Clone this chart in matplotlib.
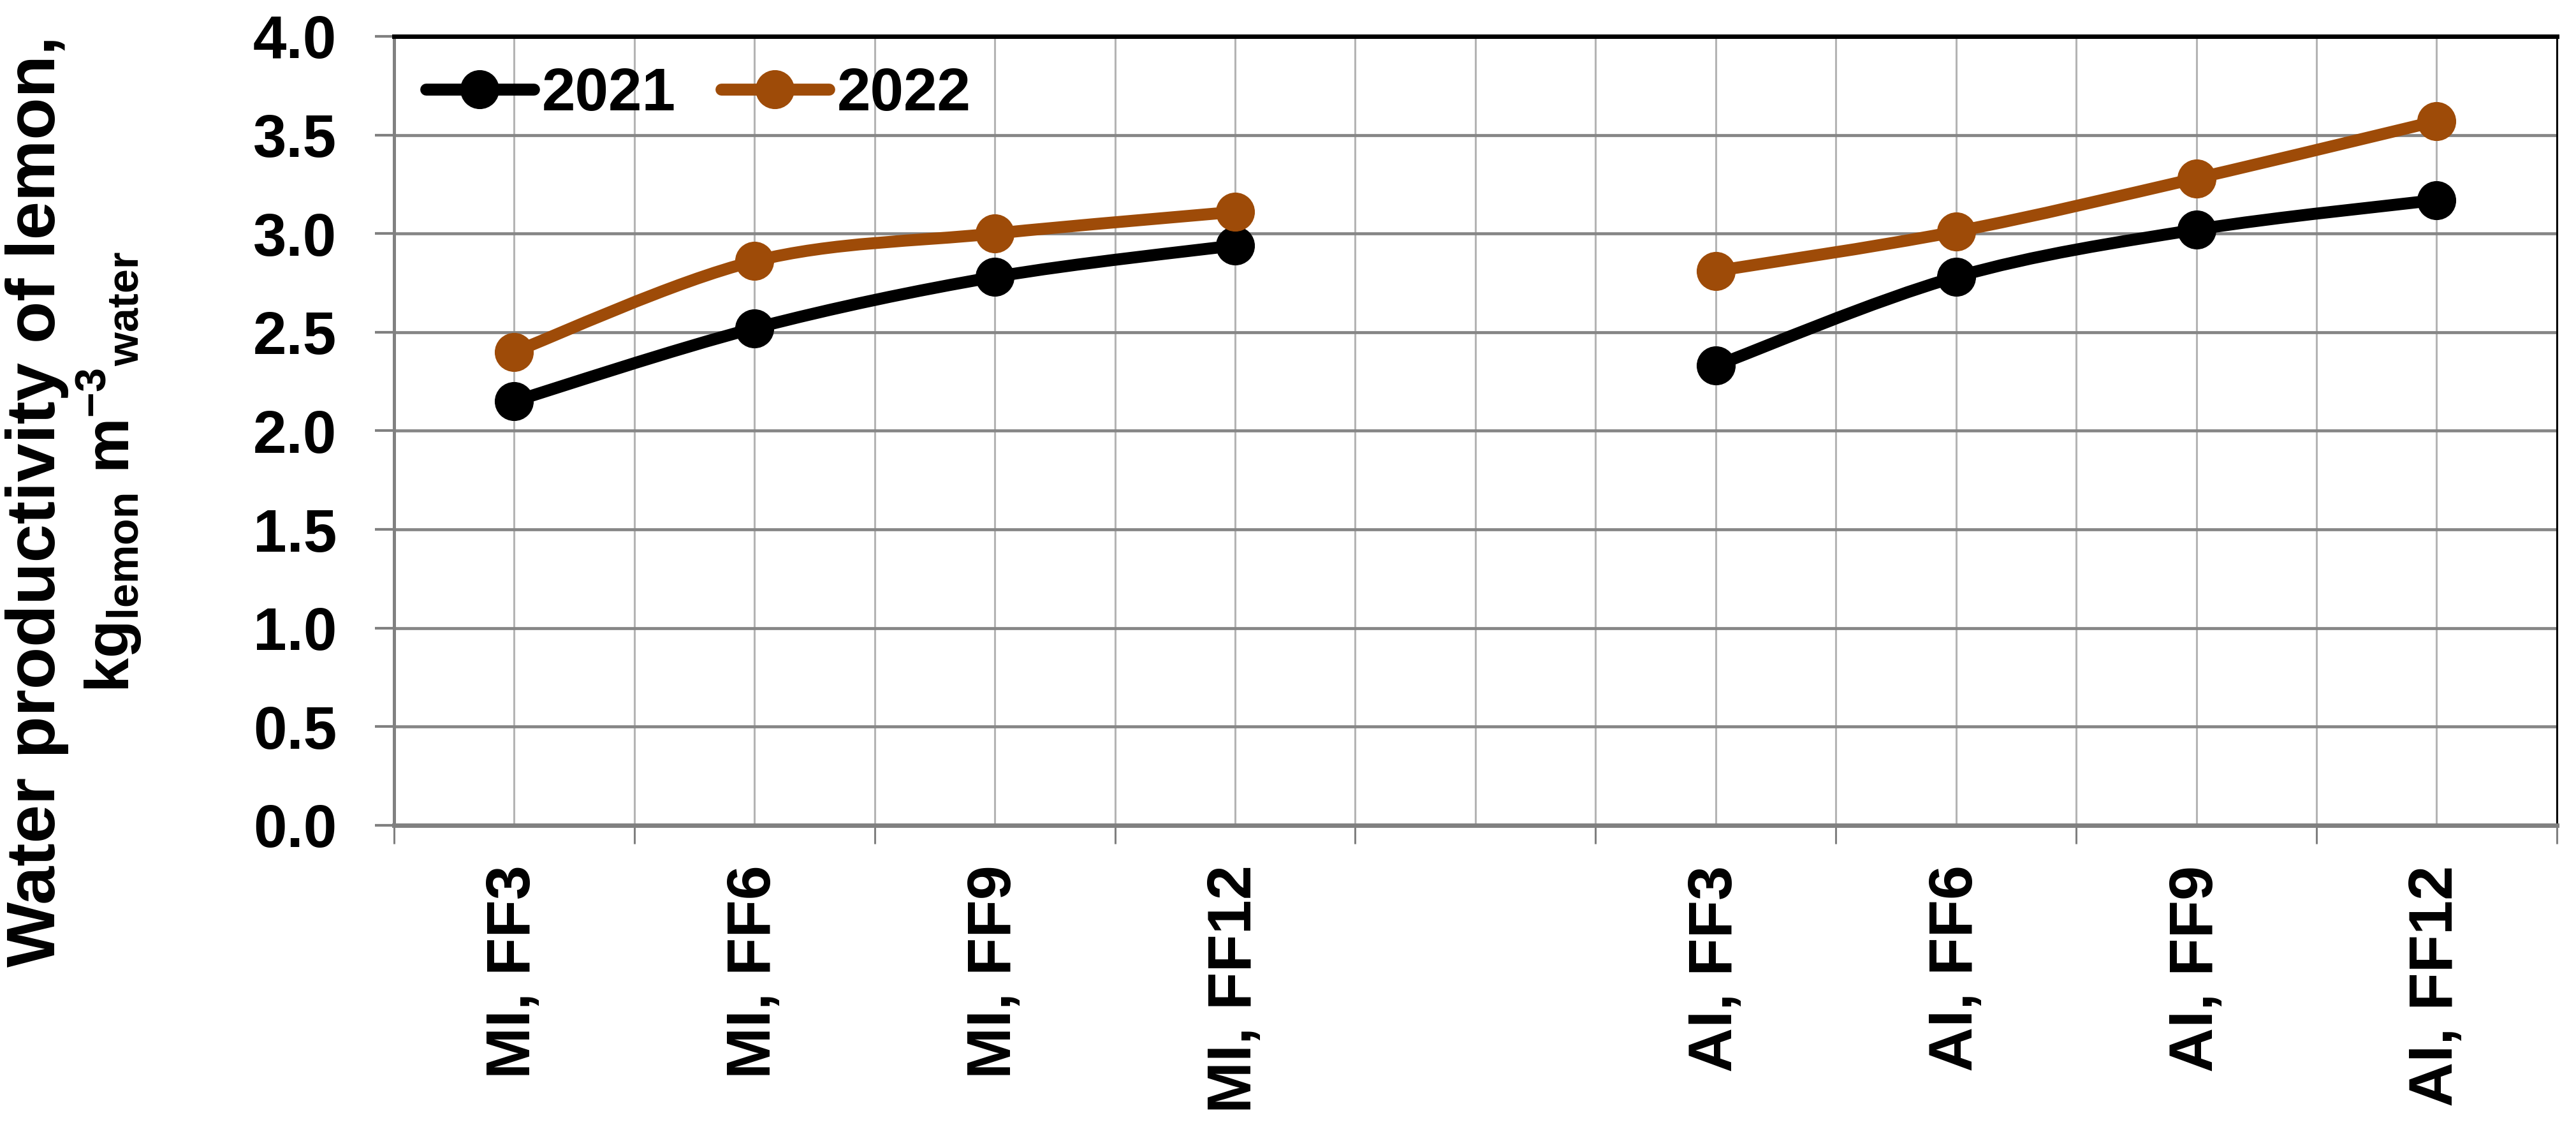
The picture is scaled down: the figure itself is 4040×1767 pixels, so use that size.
import numpy as np
import matplotlib
matplotlib.use("Agg")
import matplotlib.pyplot as plt
from matplotlib.path import Path
from matplotlib.patches import PathPatch
from matplotlib.lines import Line2D

plt.rcParams['font.family'] = ['Liberation Sans', 'DejaVu Sans']
plt.rcParams['font.weight'] = 'bold'
plt.rcParams['mathtext.fontset'] = 'custom'
plt.rcParams['mathtext.rm'] = 'Liberation Sans'
plt.rcParams['mathtext.it'] = 'Liberation Sans:italic'
plt.rcParams['mathtext.bf'] = 'Liberation Sans:bold'

# categories (slot 4 is an empty gap between the MI and AI groups)
categories = ['MI, FF3', 'MI, FF6', 'MI, FF9', 'MI, FF12', '',
              'AI, FF3', 'AI, FF6', 'AI, FF9', 'AI, FF12']
mi_pos = [0, 1, 2, 3]
ai_pos = [5, 6, 7, 8]

wp_2021_mi = [2.15, 2.52, 2.78, 2.94]
wp_2021_ai = [2.33, 2.78, 3.02, 3.17]
wp_2022_mi = [2.40, 2.86, 3.00, 3.11]
wp_2022_ai = [2.81, 3.01, 3.28, 3.57]

yticks = [0.0, 0.5, 1.0, 1.5, 2.0, 2.5, 3.0, 3.5, 4.0]

c2021 = '#000000'
c2022 = '#9E4B08'
LW = 13.5
MS = 43


def smooth_path(xs, ys):
    # Excel-like smoothed line: cubic Bezier through the data points
    pts = np.column_stack([xs, ys]).astype(float)
    n = len(pts)
    verts = [pts[0]]
    codes = [Path.MOVETO]
    for i in range(n - 1):
        p0 = pts[i - 1] if i > 0 else pts[i]
        p1 = pts[i]
        p2 = pts[i + 1]
        p3 = pts[i + 2] if i + 2 < n else pts[i + 1]
        verts += [p1 + (p2 - p0) / 6, p2 - (p3 - p1) / 6, p2]
        codes += [Path.CURVE4] * 3
    return Path(verts, codes)


fig = plt.figure(figsize=(40.41, 17.67), dpi=100)
ax = fig.add_axes([0.1529, 0.2677, 0.8394, 0.7001])

for xs, ys, col in [(mi_pos, wp_2021_mi, c2021), (ai_pos, wp_2021_ai, c2021),
                    (mi_pos, wp_2022_mi, c2022), (ai_pos, wp_2022_ai, c2022)]:
    ax.add_patch(PathPatch(smooth_path(xs, ys), facecolor='none', edgecolor=col,
                           lw=LW, capstyle='round', joinstyle='round', zorder=3))
    ax.plot(xs, ys, linestyle='none', marker='o', ms=MS, color=col, zorder=4)

ax.set_xlim(-0.5, 8.5)
ax.set_ylim(0, 4)
ax.set_yticks(yticks)
ax.set_yticklabels([f'{v:.1f}' for v in yticks])

ax.set_xticks(np.arange(-0.5, 9, 1.0))
ax.set_xticklabels([])
ax.set_xticks(range(len(categories)), minor=True)
ax.set_xticklabels(categories, minor=True, rotation=90, fontsize=70, fontweight='bold')

ax.tick_params(axis='y', direction='out', length=21.6, width=3, color='#808080',
               pad=43, labelsize=68)
ax.tick_params(axis='x', which='major', direction='out', length=21, width=2.2,
               color='#808080')
ax.tick_params(axis='x', which='minor', length=0, pad=45)

ax.set_axisbelow(True)
ax.grid(axis='y', which='major', color='#868686', lw=3.4)
ax.grid(axis='x', which='both', color='#b4b4b4', lw=2.2)

ax.spines['top'].set_color('black')
ax.spines['top'].set_linewidth(5)
ax.spines['right'].set_color('black')
ax.spines['right'].set_linewidth(2.2)
ax.spines['left'].set_color('#808080')
ax.spines['left'].set_linewidth(3.6)
ax.spines['bottom'].set_color('#808080')
ax.spines['bottom'].set_linewidth(5)

handles = [Line2D([], [], color=c2021, lw=LW, marker='o', ms=MS, solid_capstyle='round'),
           Line2D([], [], color=c2022, lw=LW, marker='o', ms=MS, solid_capstyle='round')]
ax.legend(handles, ['2021', '2022'], loc='center left', bbox_to_anchor=(0.0147, 0.9256),
          ncol=2, frameon=False, borderpad=0, borderaxespad=0,
          handlelength=1.79, handletextpad=0.14, columnspacing=0.75,
          prop={'weight': 'bold', 'size': 68})

fig.text(0.0212, 0.555, 'Water productivity of lemon,', rotation=90,
         rotation_mode='anchor', ha='center', va='baseline', fontsize=78,
         fontweight='bold')
fig.text(0.0503, 0.581,
         r'kg$_{\mathrm{lemon}}$ m$^{\mathrm{-3}}$$_{\mathrm{water}}$',
         rotation=90, rotation_mode='anchor', ha='center', va='baseline',
         fontsize=70, fontweight='bold')

fig.savefig('out.png', dpi=100)
